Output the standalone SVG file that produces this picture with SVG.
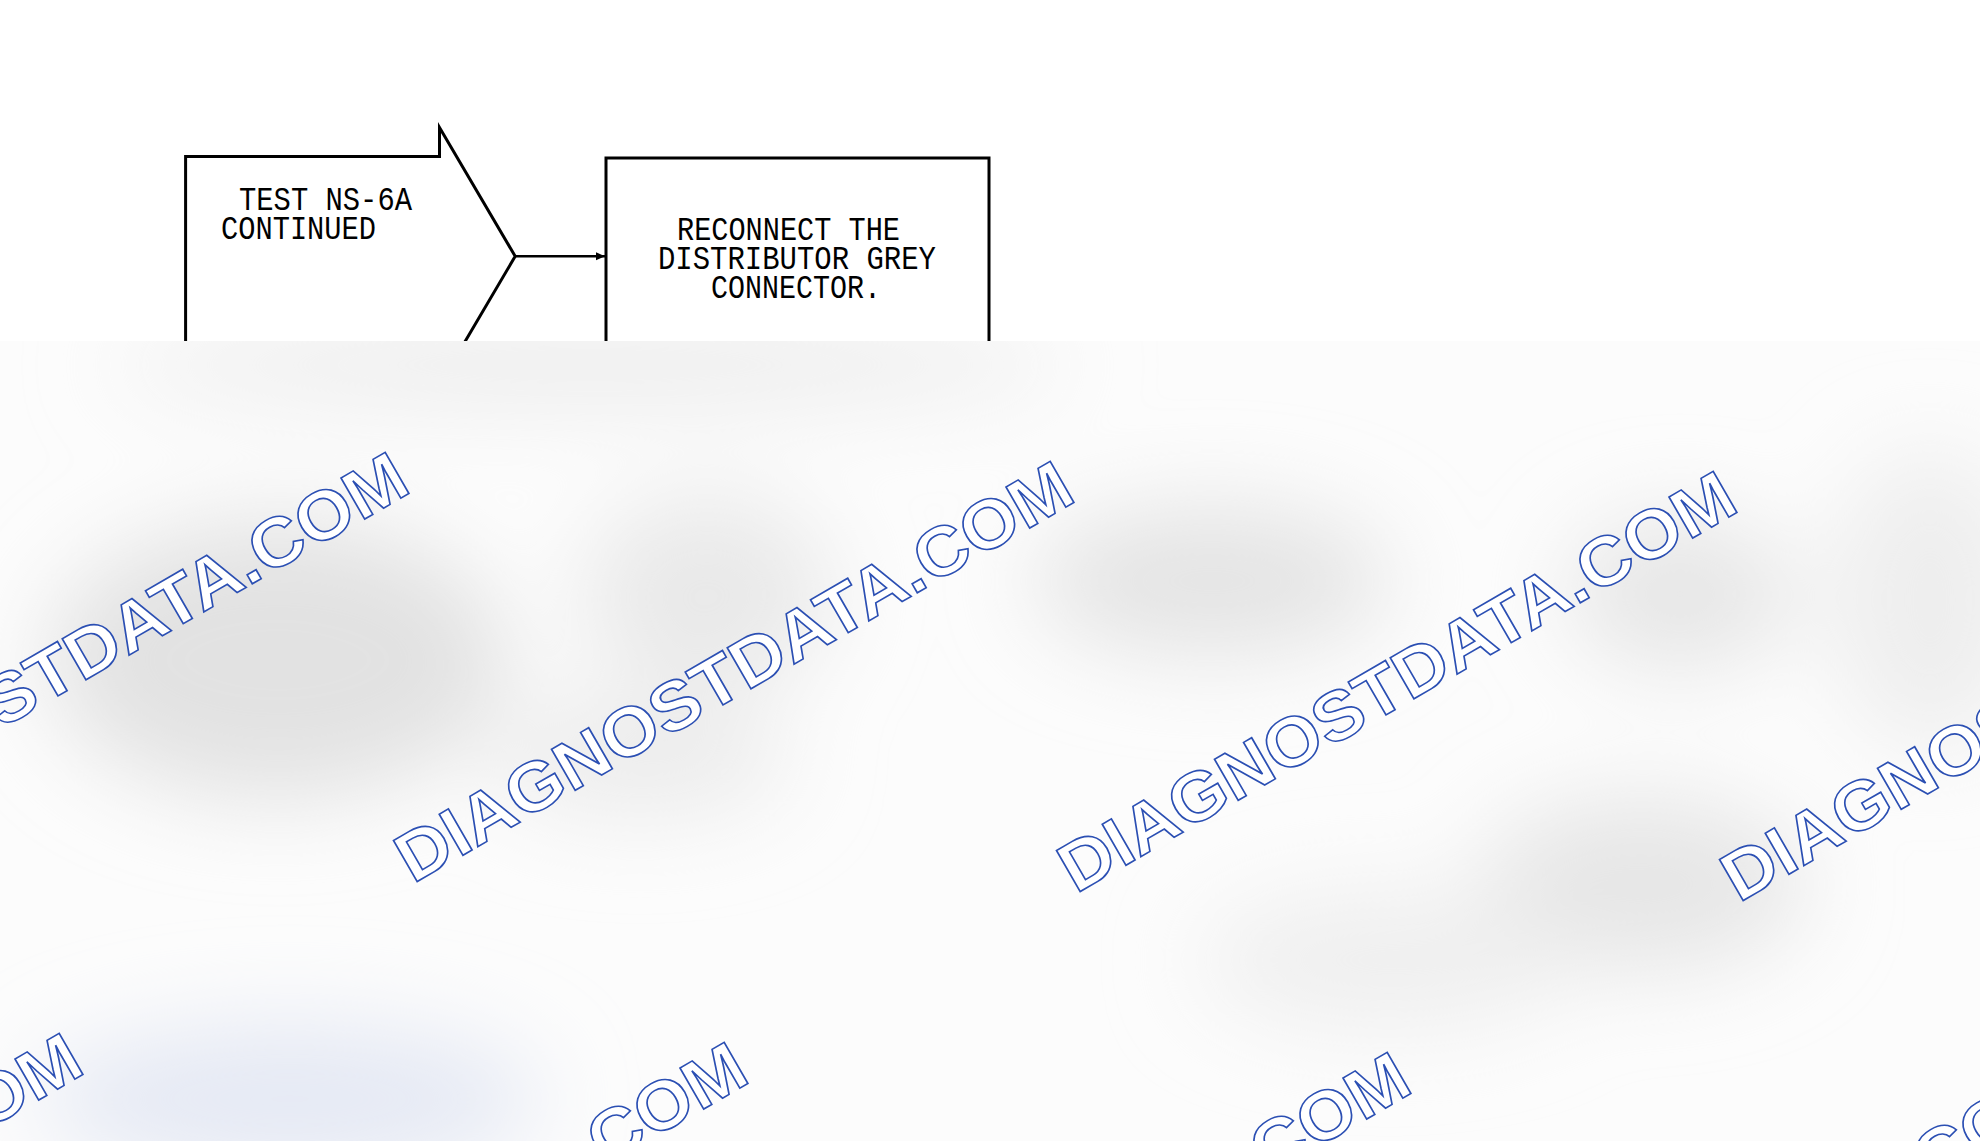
<svg xmlns="http://www.w3.org/2000/svg" width="1980" height="1141" viewBox="0 0 1980 1141">
<defs>
<style>
.shape{fill:#fff;stroke:#000;stroke-width:3;stroke-linejoin:miter}
.lbl{font-family:"Liberation Mono","DejaVu Sans Mono",monospace;font-size:33px;fill:#000}
.conn{stroke:#000;stroke-width:2.5;fill:none}
.wm{font-family:"Liberation Sans",Arial,sans-serif;font-weight:bold;font-size:69px;fill:#fff;stroke:#2b4fb3;stroke-width:1.6}
</style>
<marker id="arr" markerWidth="10" markerHeight="10" refX="9" refY="5" orient="auto" markerUnits="userSpaceOnUse">
<path d="M0,1 L9,5 L0,9 Z" fill="#000"/>
</marker>
<filter id="blur" x="-50%" y="-50%" width="200%" height="200%">
<feGaussianBlur stdDeviation="45"/>
</filter>
<clipPath id="below">
<rect x="0" y="341" width="1980" height="800"/>
</clipPath>
</defs>
<rect width="1980" height="1141" fill="#fff"/>
<g id="node-test-ns6a">
<polygon class="shape" points="185.6,156.6 439.5,156.6 439.5,127.5 515.2,256.3 439.5,385 439.5,420 185.6,420"/>
<text class="lbl" x="239" y="209.6" textLength="173" lengthAdjust="spacingAndGlyphs">TEST NS-6A</text>
<text class="lbl" x="221" y="238.7" textLength="155" lengthAdjust="spacingAndGlyphs">CONTINUED</text>
</g>
<g id="node-reconnect">
<rect class="shape" x="606" y="158" width="383" height="260"/>
<text class="lbl" x="677" y="240" textLength="223" lengthAdjust="spacingAndGlyphs">RECONNECT THE</text>
<text class="lbl" x="658" y="269" textLength="278" lengthAdjust="spacingAndGlyphs">DISTRIBUTOR GREY</text>
<text class="lbl" x="711" y="298" textLength="170" lengthAdjust="spacingAndGlyphs">CONNECTOR.</text>
</g>
<g id="connectors">
<line class="conn" x1="515.2" y1="256.3" x2="605" y2="256.3" marker-end="url(#arr)"/>
</g>
<g id="overlay">
<rect x="0" y="341" width="1980" height="800" fill="#fcfcfc"/>
<g clip-path="url(#below)">
<g filter="url(#blur)">
<ellipse cx="590" cy="365" rx="480" ry="40" fill="#ececec"/>
<ellipse cx="278" cy="660" rx="230" ry="140" fill="#e2e2e2"/>
<ellipse cx="707" cy="594" rx="126" ry="100" fill="#e9e9e9"/>
<ellipse cx="640" cy="758" rx="150" ry="60" fill="#ececec"/>
<ellipse cx="1212" cy="581" rx="180" ry="76" fill="#e4e4e4"/>
<ellipse cx="1680" cy="594" rx="114" ry="76" fill="#e6e6e6"/>
<ellipse cx="1642" cy="884" rx="164" ry="88" fill="#e6e6e6"/>
<ellipse cx="1389" cy="960" rx="190" ry="70" fill="#efefef"/>
<ellipse cx="290" cy="1099" rx="253" ry="76" fill="#e5e9f4"/>
<ellipse cx="1930" cy="600" rx="100" ry="150" fill="#eeeeee"/>
</g>
</g>
</g>
<g id="watermarks">
<text class="wm" transform="translate(-252,875) rotate(-30)" textLength="768" lengthAdjust="spacingAndGlyphs">DIAGNOSTDATA.COM</text>
<text class="wm" transform="translate(413,884) rotate(-30)" textLength="768" lengthAdjust="spacingAndGlyphs">DIAGNOSTDATA.COM</text>
<text class="wm" transform="translate(1076,894) rotate(-30)" textLength="768" lengthAdjust="spacingAndGlyphs">DIAGNOSTDATA.COM</text>
<text class="wm" transform="translate(1739,903) rotate(-30)" textLength="768" lengthAdjust="spacingAndGlyphs">DIAGNOSTDATA.COM</text>
<text class="wm" transform="translate(-578,1456) rotate(-30)" textLength="768" lengthAdjust="spacingAndGlyphs">DIAGNOSTDATA.COM</text>
<text class="wm" transform="translate(87,1465) rotate(-30)" textLength="768" lengthAdjust="spacingAndGlyphs">DIAGNOSTDATA.COM</text>
<text class="wm" transform="translate(750,1475) rotate(-30)" textLength="768" lengthAdjust="spacingAndGlyphs">DIAGNOSTDATA.COM</text>
<text class="wm" transform="translate(1413,1484) rotate(-30)" textLength="768" lengthAdjust="spacingAndGlyphs">DIAGNOSTDATA.COM</text>
</g>
</svg>
